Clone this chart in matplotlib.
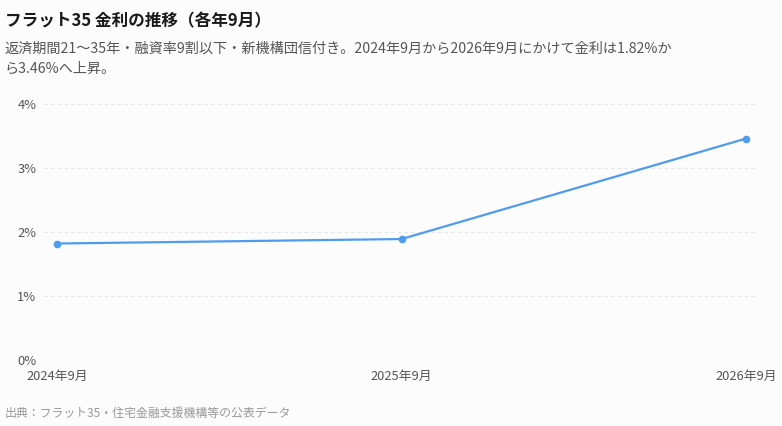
import matplotlib
matplotlib.use("Agg")
import matplotlib.pyplot as plt

plt.rcParams['font.family'] = ['Noto Sans CJK JP', 'DejaVu Sans']

# data
periods = ["2024年9月", "2025年9月", "2026年9月"]
rates = [1.82, 1.89, 3.46]
y_ticks = [0, 1, 2, 3, 4]

title = "フラット35 金利の推移（各年9月）"
subtitle = ("返済期間21〜35年・融資率9割以下・新機構団信付き。2024年9月から2026年9月にかけて金利は1.82%か\n"
            "ら3.46%へ上昇。")
source = "出典：フラット35・住宅金融支援機構等の公表データ"

bg = "#fcfcfc"
fig = plt.figure(figsize=(7.82, 4.26), dpi=100, facecolor=bg)
ax = fig.add_axes([0.0563, 0.1549, 0.9118, 0.601], facecolor=bg)

x = list(range(len(periods)))
ax.plot(x, rates, color="#4f9bf0", linewidth=1.6, marker="o", markersize=4.5,
        clip_on=False, zorder=3)

ax.set_xlim(-0.038, 2.032)
ax.set_ylim(0, 4)
ax.set_yticks(y_ticks)
ax.set_yticklabels([f"{v}%" for v in y_ticks])
ax.set_xticks(x)
ax.set_xticklabels(periods)
ax.grid(axis="y", color="#e4e4e4", linestyle=(0, (3, 3)), linewidth=0.8)
ax.grid(axis="x", visible=False)
for s in ax.spines.values():
    s.set_visible(False)
ax.tick_params(axis="both", length=0, labelsize=9.3, colors="#555555")
ax.tick_params(axis="y", pad=5.5)
ax.tick_params(axis="x", pad=7)

fig.text(0.006, 0.938, title, fontsize=12, fontweight="bold", color="#1a1a1a",
         va="baseline")
fig.text(0.006, 0.83, subtitle, fontsize=10.2, color="#555555", va="baseline",
         linespacing=1.48)
fig.text(0.006, 0.022, source, fontsize=8.6, color="#999999", va="baseline")

fig.savefig("out.png", dpi=100, facecolor=bg)
